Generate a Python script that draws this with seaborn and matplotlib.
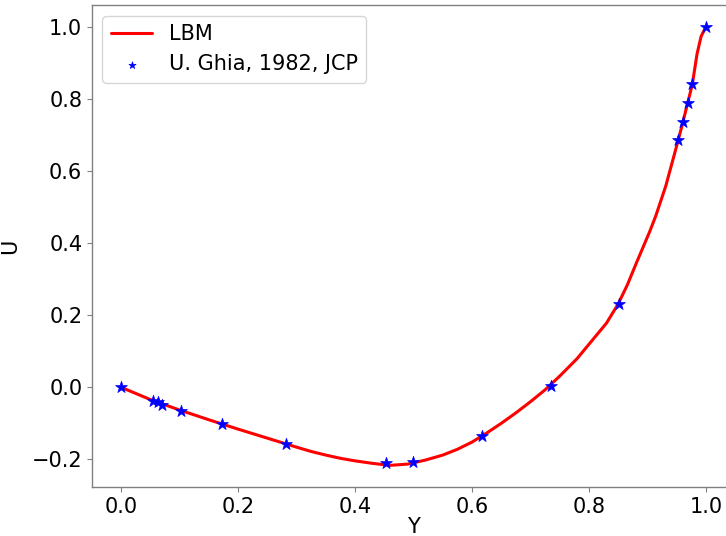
import matplotlib
matplotlib.use("Agg")
import matplotlib.pyplot as plt
import seaborn as sns
import pandas as pd

# LBM profile
lbm_y = [0.0, 0.05, 0.10, 0.15, 0.20, 0.25, 0.30, 0.325, 0.35, 0.375, 0.40,
         0.43, 0.46, 0.49, 0.52, 0.55, 0.575, 0.60, 0.625, 0.65, 0.675, 0.70,
         0.725, 0.75, 0.78, 0.807, 0.83, 0.85, 0.866, 0.8815, 0.904, 0.9145,
         0.9316, 0.944, 0.953, 0.961, 0.969, 0.977, 0.985, 0.992, 1.0]
lbm_u = [0.0, -0.034, -0.063, -0.090, -0.116, -0.141, -0.166, -0.178, -0.188,
         -0.197, -0.204, -0.211, -0.2165, -0.213, -0.202, -0.188, -0.172,
         -0.152, -0.127, -0.100, -0.071, -0.040, -0.007, 0.031, 0.080, 0.133,
         0.178, 0.231, 0.285, 0.346, 0.432, 0.476, 0.559, 0.633, 0.687, 0.737,
         0.789, 0.841, 0.925, 0.974, 1.0]

# Ghia et al. (1982) reference data
ghia_y = [0.0, 0.0547, 0.0625, 0.0703, 0.1016, 0.1719, 0.2813, 0.4531, 0.5,
          0.6172, 0.7344, 0.8516, 0.9531, 0.9609, 0.9688, 0.9766, 1.0]
ghia_u = [0.0, -0.03717, -0.04192, -0.04775, -0.06434, -0.10150, -0.15662,
          -0.21090, -0.20581, -0.13641, 0.00332, 0.23151, 0.68717, 0.73722,
          0.78871, 0.84123, 1.0]

sns.set_style("white")
plt.rcParams['font.family'] = ['DejaVu Sans']
plt.rcParams['text.color'] = 'black'
plt.rcParams['axes.labelcolor'] = 'black'

fig = plt.figure(figsize=(7.26, 5.36), dpi=100)
ax = fig.add_axes([0.1267, 0.0914, 0.8857, 0.899])

df_l = pd.DataFrame({"Y": lbm_y, "U": lbm_u})
df_g = pd.DataFrame({"Y": ghia_y, "U": ghia_u})

sns.lineplot(data=df_l, x="Y", y="U", color="red", linewidth=2.2, ax=ax,
             label="LBM", sort=False)
sns.scatterplot(data=df_g, x="Y", y="U", color="blue", marker="*", s=80,
                edgecolor="blue", linewidth=0.5, ax=ax,
                label="U. Ghia, 1982, JCP", zorder=3)

ax.set_xlim(-0.05, 1.05)
ax.set_ylim(-0.2766, 1.0608)
ax.set_xticks([0.0, 0.2, 0.4, 0.6, 0.8, 1.0])
ax.set_yticks([-0.2, 0.0, 0.2, 0.4, 0.6, 0.8, 1.0])
ax.set_xlabel("Y", fontsize=15, labelpad=0)
ax.set_ylabel("U", fontsize=15, labelpad=8)
ax.tick_params(axis='both', labelsize=15, direction='out', length=3.5,
               color='#808080', labelcolor='black', width=0.8,
               bottom=True, left=True)
for sp in ax.spines.values():
    sp.set_color('#808080')
    sp.set_linewidth(1.0)

ax.legend(loc="upper left", fontsize=15, frameon=True, markerscale=0.6)

fig.savefig("out.png", dpi=100)
